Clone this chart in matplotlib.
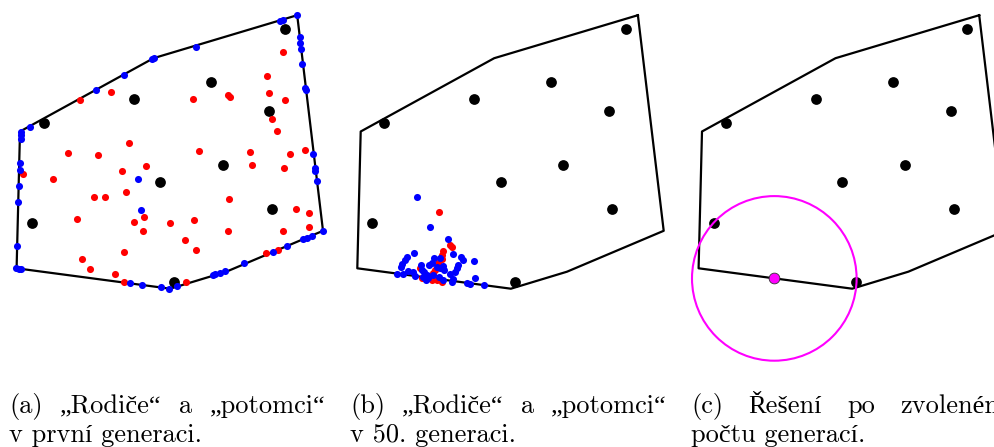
import matplotlib
matplotlib.use("Agg")
import matplotlib.pyplot as plt
from matplotlib.patches import Circle
import numpy as np

W_PX, H_PX = 995, 447

# shared polygon (panel-local pixel units, y grows downward)
poly_x = [297.2, 323.0, 226.3, 170.2, 16.6, 20.0, 153.5]
poly_y = [15.2, 230.8, 271.7, 288.7, 268.3, 131.5, 58.2]

# fixed points (black), identical in all three panels
black_x = [285.3, 210.7, 133.7, 268.7, 43.7, 222.7, 160.0, 271.7, 31.7, 174.0]
black_y = [28.7, 82.0, 99.3, 111.3, 122.7, 164.7, 181.7, 208.7, 222.7, 281.7]

# (a) first generation - parents (red) and offspring (blue)
red_a_x = [283.3, 266.7, 269.3, 285.3, 228.3, 230.0, 193.3, 111.0, 80.0, 272.0,
           276.7, 129.3, 67.7, 98.3, 199.3, 250.0, 290.3, 304.7, 146.0, 122.3,
           252.3, 284.0, 22.7, 53.3, 126.0, 94.3, 105.3, 229.3, 296.0, 308.7,
           77.3, 144.0, 134.0, 170.0, 193.7, 309.3, 142.7, 228.0, 283.3, 185.0,
           196.0, 123.7, 265.7, 277.7, 82.0, 90.0, 115.3, 124.0, 185.7]
red_a_y = [51.7, 76.0, 93.3, 100.0, 95.0, 97.3, 98.7, 91.7, 100.0, 118.7,
           130.7, 143.0, 153.3, 155.0, 150.7, 152.3, 154.3, 150.3, 166.0, 170.7,
           164.7, 168.0, 174.3, 179.3, 192.3, 197.3, 197.3, 198.7, 208.7, 213.3,
           219.0, 217.3, 222.0, 222.7, 219.7, 227.3, 231.3, 230.7, 231.3, 239.7,
           250.0, 251.7, 253.3, 250.0, 258.7, 269.0, 274.3, 281.7, 282.0]
blue_a_x = [296.7, 282.7, 280.0, 300.0, 300.0, 301.0, 302.3, 305.3, 306.0, 196.0,
            151.7, 154.0, 124.0, 95.7, 29.7, 20.7, 20.7, 20.7, 20.0, 20.0,
            19.3, 18.3, 17.3, 16.0, 18.7, 21.3, 313.3, 314.7, 315.3, 316.7,
            322.7, 311.7, 306.7, 302.7, 286.7, 272.7, 244.3, 225.0, 220.0, 215.0,
            213.3, 177.3, 169.0, 161.0, 142.3, 130.0, 137.7, 140.7]
blue_a_y = [15.3, 20.0, 21.0, 37.3, 42.7, 48.7, 64.0, 87.7, 90.0, 47.0,
            59.3, 57.7, 75.3, 90.3, 127.3, 131.7, 135.0, 139.0, 162.7, 170.0,
            186.0, 201.7, 245.7, 268.3, 268.7, 268.7, 154.3, 168.3, 170.7, 180.7,
            231.3, 235.7, 238.0, 239.3, 246.3, 252.0, 263.3, 271.0, 272.7, 274.3,
            275.0, 286.0, 289.0, 287.0, 285.0, 283.3, 178.7, 210.3]

# (b) 50th generation
red_b_x = [98.6, 109.3, 111.0, 102.6, 101.6, 101.0, 97.6, 94.3, 92.0, 89.3,
           86.0, 81.0, 91.0, 96.0, 101.0, 79.3]
red_b_y = [212.3, 245.0, 247.0, 251.0, 255.0, 259.0, 263.3, 270.0, 273.3, 275.7,
           277.7, 277.7, 280.0, 280.0, 281.7, 267.7]
blue_b_x = [76.0, 89.6, 107.0, 112.6, 120.3, 122.6, 133.3, 117.6, 116.0, 114.6,
            73.3, 66.6, 64.3, 61.6, 60.0, 56.0, 62.0, 67.6, 72.6, 74.3,
            80.0, 81.6, 83.3, 86.0, 87.6, 93.3, 99.3, 96.6, 99.3, 102.0,
            103.3, 92.6, 98.3, 102.6, 109.3, 112.0, 111.0, 126.0, 129.3, 134.3,
            143.3, 91.0, 88.6, 82.6, 85.0]
blue_b_y = [197.0, 226.7, 239.0, 254.0, 256.7, 260.0, 260.7, 265.0, 268.3, 272.3,
            253.3, 256.7, 260.0, 264.0, 266.7, 274.3, 274.3, 271.0, 272.3, 275.7,
            265.0, 270.0, 272.3, 275.0, 277.7, 257.7, 257.7, 266.7, 268.3, 265.7,
            270.0, 275.0, 276.7, 280.0, 274.3, 279.0, 281.7, 283.3, 283.7, 277.7,
            285.0, 263.3, 265.0, 276.7, 280.0]

# (c) solution: centre of the largest empty circle
sol_x, sol_y = 92.3, 278.4
sol_r = 82.3

# panel offsets in the figure (pixels) and captions
panel_left = [0.0, 340.7, 682.0]
cap_left = [9.3, 350.3, 691.0]
cap_width = 316.0
cap_line1 = [["(a)", "„Rodiče“", "a", "„potomci“"],
             ["(b)", "„Rodiče“", "a", "„potomci“"],
             ["(c)", "Řešení", "po", "zvoleném"]]
cap_line2 = ["v první generaci.", "v 50. generaci.", "počtu generací."]

FONT = ["cmr10", "Liberation Serif"]
FS = 19

fig = plt.figure(figsize=(W_PX / 100, H_PX / 100), dpi=100)

PW = 340.0
px = np.append(poly_x, poly_x[0])
py = np.append(poly_y, poly_y[0])


def make_panel(left):
    ax = fig.add_axes([left / W_PX, 0, PW / W_PX, 1])
    ax.set_xlim(0, PW)
    ax.set_ylim(H_PX, 0)
    ax.axis("off")
    ax.plot(px, py, color="black", lw=1.6, zorder=1)
    return ax


ax_a = make_panel(panel_left[0])
ax_a.scatter(black_x, black_y, s=60, color="black", lw=0, zorder=2)
ax_a.scatter(red_a_x, red_a_y, s=26, color="red", lw=0, zorder=3)
ax_a.scatter(blue_a_x, blue_a_y, s=26, color="blue", lw=0, zorder=4)

ax_b = make_panel(panel_left[1])
ax_b.scatter(black_x, black_y, s=60, color="black", lw=0, zorder=2)
ax_b.scatter(red_b_x, red_b_y, s=26, color="red", lw=0, zorder=3)
ax_b.scatter(blue_b_x, blue_b_y, s=26, color="blue", lw=0, zorder=4)

ax_c = make_panel(panel_left[2])
ax_c.scatter(black_x, black_y, s=60, color="black", lw=0, zorder=2)
ax_c.add_patch(Circle((sol_x, sol_y), sol_r, fill=False, ec="#ff00ff",
                      lw=1.5, zorder=3))
ax_c.scatter([sol_x], [sol_y], s=60, color="#ff00ff", edgecolors="#333333",
             linewidths=0.6, zorder=4)

# captions - first line justified like in the LaTeX original
renderer = fig.canvas.get_renderer()
y1, y2 = 413, 442
for x0, words, line2 in zip(cap_left, cap_line1, cap_line2):
    texts = [fig.text(0, 0, w, fontsize=FS, family=FONT, va="baseline")
             for w in words]
    widths = [t.get_window_extent(renderer).width for t in texts]
    gap = (cap_width - sum(widths)) / (len(words) - 1)
    x = x0
    for t, w in zip(texts, widths):
        t.set_position((x / W_PX, 1 - y1 / H_PX))
        x += w + gap
    fig.text(x0 / W_PX, 1 - y2 / H_PX, line2, fontsize=FS, family=FONT,
             va="baseline")

fig.savefig("out.png", dpi=100)
